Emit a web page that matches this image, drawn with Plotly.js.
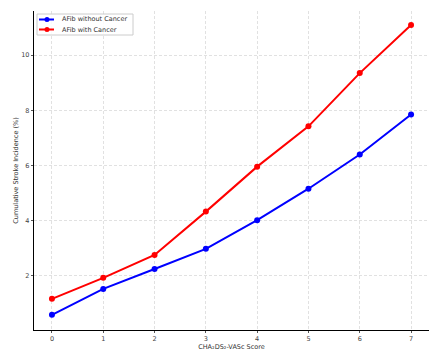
<!DOCTYPE html>
<html><head><meta charset="utf-8">
<script src="https://cdn.plot.ly/plotly-3.0.1.min.js"></script>
<style>html,body{margin:0;padding:0;background:#fff;}#chart{width:439px;height:360px;}</style>
</head><body><div id="chart"></div>
<script>
const scores = [0, 1, 2, 3, 4, 5, 6, 7];
const withoutCancer = [0.59, 1.53, 2.25, 2.98, 4.02, 5.16, 6.40, 7.85];
const withCancer = [1.17, 1.93, 2.76, 4.33, 5.96, 7.42, 9.35, 11.09];
const yTicks = [2, 4, 6, 8, 10];
const seriesNames = ['AFib without Cancer', 'AFib with Cancer'];
const seriesColors = ['#0000ff', '#ff0000'];

const traces = [
  {x: scores, y: withoutCancer, name: seriesNames[0], mode: 'lines+markers',
   line: {color: seriesColors[0], width: 2}, marker: {color: seriesColors[0], size: 6}},
  {x: scores, y: withCancer, name: seriesNames[1], mode: 'lines+markers',
   line: {color: seriesColors[1], width: 2}, marker: {color: seriesColors[1], size: 6}}
];

// compact legend drawn in paper coordinates (plot area ~395x319 px)
const PW = 395, PH = 319;
const px = v => v / PW, py = v => 1 - v / PH;
const shapes = [
  {type: 'rect', xref: 'paper', yref: 'paper', x0: px(3), x1: px(99), y0: py(3), y1: py(24),
   line: {color: '#cccccc', width: 1}, fillcolor: 'rgba(255,255,255,0.85)', layer: 'above'}
];
const annotations = [];
seriesNames.forEach((n, i) => {
  const yy = py(8.5 + i * 10);
  shapes.push({type: 'line', xref: 'paper', yref: 'paper', x0: px(5), x1: px(20), y0: yy, y1: yy,
    line: {color: seriesColors[i], width: 2}, layer: 'above'});
  shapes.push({type: 'circle', xref: 'paper', yref: 'paper', x0: px(10.5), x1: px(15.5),
    y0: yy - 2.5 / PH, y1: yy + 2.5 / PH, line: {color: seriesColors[i], width: 0},
    fillcolor: seriesColors[i], layer: 'above'});
  annotations.push({xref: 'paper', yref: 'paper', x: px(26), y: yy, xanchor: 'left', yanchor: 'middle',
    text: n, showarrow: false, font: {size: 6.5, color: '#333'}});
});

const layout = {
  width: 439, height: 360,
  margin: {l: 34, r: 10, t: 11, b: 30},
  paper_bgcolor: '#fff', plot_bgcolor: '#fff',
  font: {family: 'DejaVu Sans', size: 6.5, color: '#444'},
  showlegend: false,
  shapes: shapes,
  annotations: annotations,
  xaxis: {range: [-0.35, 7.35], tickvals: scores, showline: true, linecolor: '#000', linewidth: 1.2,
          ticks: 'outside', ticklen: 2, tickcolor: '#555', showgrid: true, gridcolor: '#d9d9d9',
          griddash: '3px,2px', gridwidth: 0.8, zeroline: false,
          tickfont: {color: '#444'},
          title: {text: 'CHA₂DS₂-VASc Score', font: {size: 6.5, color: '#333'}, standoff: 1}},
  yaxis: {range: [0.04, 11.6], tickvals: yTicks, showline: true, linecolor: '#000', linewidth: 1.2,
          ticks: 'outside', ticklen: 2, tickcolor: '#555', showgrid: true, gridcolor: '#d9d9d9',
          griddash: '3px,2px', gridwidth: 0.8, zeroline: false,
          tickfont: {color: '#444'},
          title: {text: 'Cumulative Stroke Incidence (%)', font: {size: 6.5, color: '#333'}, standoff: 2}}
};
Plotly.newPlot('chart', traces, layout, {displayModeBar: false, staticPlot: true});
</script></body></html>
